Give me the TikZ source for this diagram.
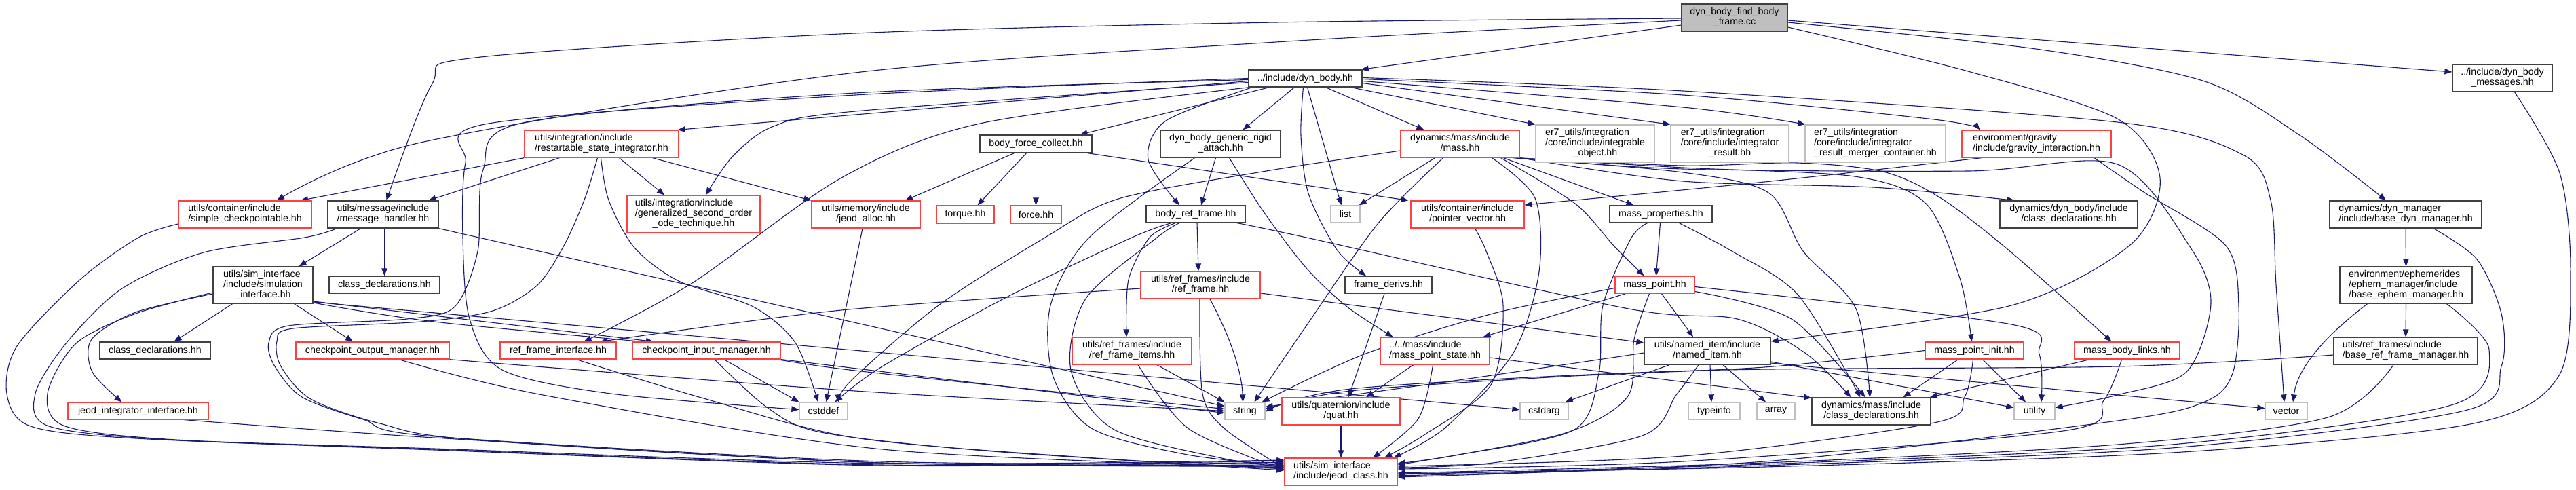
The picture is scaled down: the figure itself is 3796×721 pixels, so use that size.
\documentclass[tikz,border=0pt]{standalone}
\usepackage{fontspec}
\setmainfont{Liberation Sans}
\usetikzlibrary{arrows.meta}
\definecolor{edgec}{HTML}{191970}
\definecolor{darkb}{HTML}{404040}
\definecolor{redc}{HTML}{FF4040}
\definecolor{greyc}{HTML}{BFBFBF}
\newcommand{\dxfont}{\fontsize{14.2pt}{15pt}\selectfont}
\newcommand{\mlbl}[2]{\begin{tabular}{@{}l@{}}#1\\\multicolumn{1}{@{}c@{}}{#2}\end{tabular}}
\pgfdeclarelayer{bg}
\pgfsetlayers{bg,main}
\tikzset{
  nd/.style={draw=darkb, fill=white, line width=1.3pt, inner sep=0pt, font=\dxfont, text=black},
  rd/.style={nd, draw=redc},
  gr/.style={nd, draw=greyc},
  e/.style={draw=edgec, line width=1.1pt, -{Triangle[length=11pt,width=8.5pt]}},
}
\begin{document}
\begin{tikzpicture}[x=1pt,y=-1pt]
\useasboundingbox (0,0) rectangle (3796,721);
\begin{pgfonlayer}{bg}
\fill[white] (0,0) rectangle (3796,721);
\end{pgfonlayer}
% ---------- nodes ----------
\node[nd, fill=greyc, minimum width=156, minimum height=40] (F) at (2556,26) {\mlbl{dyn\_body\_find\_body}{\_frame.cc}};
\node[nd, minimum width=167, minimum height=25] (DB) at (1923.5,115.5) {../include/dyn\_body.hh};
\node[nd, minimum width=147, minimum height=40] (MSG) at (3687.5,115) {\mlbl{../include/dyn\_body}{\_messages.hh}};
\node[rd, minimum width=196, minimum height=40] (SC) at (361,316) {\mlbl{utils/container/include}{/simple\_checkpointable.hh}};
\node[nd, minimum width=163, minimum height=40] (MH) at (564.5,316) {\mlbl{utils/message/include}{/message\_handler.hh}};
\node[rd, minimum width=227, minimum height=40] (RSI) at (886.5,212) {\mlbl{utils/integration/include}{/restartable\_state\_integrator.hh}};
\node[rd, minimum width=196, minimum height=55] (GSO) at (1022,315.5) {\mlbl{utils/integration/include\\/generalized\_second\_order}{\_ode\_technique.hh}};
\node[rd, minimum width=160, minimum height=40] (JA) at (1276,316) {\mlbl{utils/memory/include}{/jeod\_alloc.hh}};
\node[rd, minimum width=85, minimum height=26] (TQ) at (1422.5,316) {torque.hh};
\node[rd, minimum width=75, minimum height=26] (FO) at (1526.5,316) {force.hh};
\node[nd, minimum width=165, minimum height=26] (BFC) at (1526.5,212) {body\_force\_collect.hh};
\node[nd, minimum width=177, minimum height=40] (GRA) at (1798.5,212) {\mlbl{dyn\_body\_generic\_rigid}{\_attach.hh}};
\node[nd, minimum width=146, minimum height=25] (BRF) at (1762,315.5) {body\_ref\_frame.hh};
\node[rd, minimum width=175, minimum height=40] (MASS) at (2151.5,212) {\mlbl{dynamics/mass/include}{/mass.hh}};
\node[gr, minimum width=175, minimum height=55] (IO) at (2350.5,211.5) {\mlbl{er7\_utils/integration\\/core/include/integrable}{\_object.hh}};
\node[gr, minimum width=174, minimum height=55] (IR) at (2549,211.5) {\mlbl{er7\_utils/integration\\/core/include/integrator}{\_result.hh}};
\node[gr, minimum width=207, minimum height=55] (IRM) at (2763.5,211.5) {\mlbl{er7\_utils/integration\\/core/include/integrator}{\_result\_merger\_container.hh}};
\node[rd, minimum width=220, minimum height=40] (GI) at (3001,212) {\mlbl{environment/gravity}{/include/gravity\_interaction.hh}};
\node[nd, minimum width=224, minimum height=40] (BDM) at (3545,316) {\mlbl{dynamics/dyn\_manager}{/include/base\_dyn\_manager.hh}};
\node[gr, minimum width=43, minimum height=25] (LIST) at (1982.5,315.5) {list};
\node[rd, minimum width=167, minimum height=40] (PV) at (2162.5,316) {\mlbl{utils/container/include}{/pointer\_vector.hh}};
\node[nd, minimum width=151, minimum height=25] (MP) at (2447.5,315.5) {mass\_properties.hh};
\node[nd, minimum width=203, minimum height=40] (DBCD) at (3048.5,316) {\mlbl{dynamics/dyn\_body/include}{/class\_declarations.hh}};
\node[nd, minimum width=147, minimum height=54] (SI) at (387.5,420) {\mlbl{utils/sim\_interface\\/include/simulation}{\_interface.hh}};
\node[nd, minimum width=163, minimum height=25] (CD1) at (566.5,419.5) {class\_declarations.hh};
\node[nd, minimum width=163, minimum height=25] (CD2) at (228.5,516.5) {class\_declarations.hh};
\node[rd, minimum width=207, minimum height=25] (JII) at (203.5,605.5) {jeod\_integrator\_interface.hh};
\node[rd, minimum width=226, minimum height=25] (COM) at (549,516.5) {checkpoint\_output\_manager.hh};
\node[rd, minimum width=171, minimum height=25] (RFI) at (822.5,516.5) {ref\_frame\_interface.hh};
\node[rd, minimum width=218, minimum height=25] (CIM) at (1041,516.5) {checkpoint\_input\_manager.hh};
\node[gr, minimum width=71, minimum height=25] (CSTDDEF) at (1213.5,605.5) {cstddef};
\node[rd, minimum width=176, minimum height=40] (RF) at (1769,420) {\mlbl{utils/ref\_frames/include}{/ref\_frame.hh}};
\node[rd, minimum width=176, minimum height=40] (RFIT) at (1668,517) {\mlbl{utils/ref\_frames/include}{/ref\_frame\_items.hh}};
\node[gr, minimum width=59, minimum height=25] (STR) at (1834.5,605.5) {string};
\node[nd, minimum width=128, minimum height=25] (FD) at (2046,419.5) {frame\_derivs.hh};
\node[rd, minimum width=161, minimum height=40] (MPS) at (2114.5,517) {\mlbl{../../mass/include}{/mass\_point\_state.hh}};
\node[rd, minimum width=174, minimum height=40] (QUAT) at (1976,606) {\mlbl{utils/quaternion/include}{/quat.hh}};
\node[gr, minimum width=71, minimum height=25] (CSTDARG) at (2275.5,605.5) {cstdarg};
\node[rd, minimum width=166, minimum height=40] (JC) at (1976,695) {\mlbl{utils/sim\_interface}{/include/jeod\_class.hh}};
\node[rd, minimum width=117, minimum height=25] (MPT) at (2438.5,419.5) {mass\_point.hh};
\node[nd, minimum width=186, minimum height=40] (NI) at (2516,517) {\mlbl{utils/named\_item/include}{/named\_item.hh}};
\node[gr, minimum width=76, minimum height=25] (TI) at (2526,605.5) {typeinfo};
\node[gr, minimum width=56, minimum height=25] (ARR) at (2617,605.5) {array};
\node[nd, minimum width=175, minimum height=40] (MCD) at (2757.5,606) {\mlbl{dynamics/mass/include}{/class\_declarations.hh}};
\node[gr, minimum width=60, minimum height=25] (UT) at (2998,605.5) {utility};
\node[rd, minimum width=145, minimum height=25] (MPI) at (2909.5,516.5) {mass\_point\_init.hh};
\node[rd, minimum width=155, minimum height=25] (MBL) at (3134.5,516.5) {mass\_body\_links.hh};
\node[gr, minimum width=62, minimum height=25] (VEC) at (3369,605.5) {vector};
\node[nd, minimum width=195, minimum height=54] (BEM) at (3545.5,420) {\mlbl{environment/ephemerides\\/ephem\_manager/include}{/base\_ephem\_manager.hh}};
\node[nd, minimum width=212, minimum height=40] (BRFM) at (3545,517) {\mlbl{utils/ref\_frames/include}{/base\_ref\_frame\_manager.hh}};
% ---------- edges ----------
\begin{pgfonlayer}{bg}
% F
\draw[e] ([yshift=-11]F.west) -- ([xshift=-2]DB.north east);
\draw[e] plot[smooth] coordinates {([yshift=-1]F.west) (1880,33) (1260,49) (700,85) (636,125) ([xshift=5]MH.north)};
\draw[e] plot[smooth] coordinates {([yshift=-4]F.west) (1880,62) (1260,107) (620,210) ([xshift=47]SC.north)};
\draw[e] ([yshift=-4]F.east) -- ([yshift=9]MSG.west);
\draw[e] plot[smooth] coordinates {([yshift=-7]F.east) (3000,72) (3249,120) (3390,200) ([xshift=-29]BDM.north)};
\draw[e] plot[smooth] coordinates {([yshift=-14]F.east) (2900,105) (3120,175) (3183,262) (3140,360) (2964,450) ([yshift=14]NI.east)};
% MSG
\draw[e] plot[smooth] coordinates {([xshift=18]MSG.south) (3772,255) (3788,400) (3770,555) (3640,625) (3200,667) (2600,688) ([yshift=-3]JC.east)};
% DB
\draw[e] ([yshift=-4]DB.west) -- ([xshift=-2]RSI.north east);
\draw[e] plot[smooth] coordinates {([yshift=-6]DB.west) (1260,164) (1140,186) (1080,230) ([xshift=18]GSO.north)};
\draw[e] ([xshift=-53]DB.south) -- ([xshift=65]BFC.north);
\draw[e] ([xshift=-16]DB.south) -- ([xshift=33]GRA.north);
\draw[e] plot[smooth] coordinates {([xshift=-78]DB.south) (1718,178) (1692,235) ([xshift=-24]BRF.north)};
\draw[e] plot[smooth] coordinates {([xshift=-82]DB.south) (1444,182) (1240,262) (1020,417) ([xshift=38]RFI.north)};
\draw[e] plot[smooth] coordinates {(DB.west) (1260,140) (720,182) (686,240) (682,350) (692,470) (740,545) (900,580) ([yshift=2]CSTDDEF.west)};
\draw[e] plot[smooth] coordinates {([yshift=-2]DB.west) (1260,137) (775,180) (712,250) (704,370) (670,452) (600,470) (425,480) (396,505) (405,540) (445,585) (535,618) (640,643) (1300,680) ([yshift=12]JC.west)};
\draw[e] plot[smooth] coordinates {([xshift=-3]DB.south) (1917,200) (1928,285) (1970,368) ([xshift=-33]FD.north)};
\draw[e] ([xshift=3]DB.south) -- ([xshift=-6]LIST.north);
\draw[e] ([xshift=30]DB.south) -- ([xshift=-53]MASS.north);
\draw[e] ([xshift=67]DB.south) -- (IO.north west);
\draw[e] ([yshift=-7]DB.east) -- (IR.north west);
\draw[e] plot[smooth] coordinates {([yshift=-4]DB.east) (2480,158) ([xshift=1]IRM.north west)};
\draw[e] plot[smooth] coordinates {([yshift=-1]DB.east) (2480,140) (2850,176) ([xshift=27]GI.north west)};
\draw[e] plot[smooth] coordinates {([yshift=1]DB.east) (2480,134) (3120,180) (3305,228) (3346,295) (3354,420) ([xshift=-3]VEC.north)};
% RSI
\draw[e] (RSI.south west) -- ([xshift=82]SC.north);
\draw[e] ([xshift=-62]RSI.south) -- ([xshift=67]MH.north);
\draw[e] ([xshift=26]RSI.south) -- ([xshift=-43]GSO.north);
\draw[e] ([xshift=75]RSI.south) -- (JA.north west);
\draw[e] plot[smooth] coordinates {([xshift=-1]RSI.south) (897,295) (935,365) (1000,414) (1110,452) (1172,505) ([xshift=-8]CSTDDEF.north)};
\draw[e] plot[smooth] coordinates {([xshift=-6]RSI.south) (862,292) (832,360) (792,420) (726,458) (620,474) (432,484) (408,503) (414,540) (458,588) (560,624) (700,648) (1300,682) ([yshift=10]JC.west)};
% SC
\draw[e] plot[smooth] coordinates {([yshift=-14]SC.west) (204,350) (118,412) (25,510) (10,580) (45,628) (200,646) (640,663) (1300,686) ([yshift=14]JC.west)};
% MH
\draw[e] plot[smooth] coordinates {([xshift=-68]MH.south) (449,350) (300,372) (180,425) (98,505) (52,580) (72,628) (250,648) (640,662) (1300,685) ([yshift=16]JC.west)};
\draw[e] ([xshift=2]MH.south) -- (CD1.north);
\draw[e] ([xshift=-33]MH.south) -- ([xshift=53]SI.north);
\draw[e] (MH.south east) -- ([yshift=7]STR.west);
% SI
\draw[e] ([xshift=-45]SI.south) -- ([xshift=28]CD2.north);
\draw[e] ([xshift=46]SI.south) -- ([xshift=-29]COM.north);
\draw[e] plot[smooth] coordinates {([yshift=-13]SI.west) (200,460) (135,500) (136,548) ([xshift=-24]JII.north)};
\draw[e] plot[smooth] coordinates {([yshift=-11]SI.west) (200,462) (112,506) (70,580) (96,628) (260,648) (640,661) (1300,683) ([yshift=17]JC.west)};
\draw[e] ([yshift=-24]SI.east) -- ([xshift=-78]CIM.north);
\draw[e] plot[smooth] coordinates {([yshift=-26]SI.east) (640,474) (1028,512) (1260,546) ([yshift=3]STR.west)};
\draw[e] ([yshift=-25]SI.east) -- ([yshift=2]CSTDARG.west);
% JII
\draw[e] plot[smooth] coordinates {([xshift=68]JII.south) (640,645) (1300,682) ([yshift=8]JC.west)};
% COM
\draw[e] plot[smooth] coordinates {([xshift=39]COM.south) (800,582) (1300,662) ([yshift=6]JC.west)};
\draw[e] plot[smooth] coordinates {(COM.south east) (1260,576) (STR.west)};
% RFI
\draw[e] plot[smooth] coordinates {([xshift=27]RFI.south) (1030,585) (1260,645) (1600,674) ([yshift=4]JC.west)};
% CIM
\draw[e] ([xshift=26]CIM.south) -- (CSTDDEF.north west);
\draw[e] plot[smooth] coordinates {([xshift=12]CIM.south) (1130,600) (1210,637) (1450,664) ([yshift=2]JC.west)};
\draw[e] ([yshift=-13]CIM.east) -- ([yshift=-3]STR.west);
% JA
\draw[e] ([xshift=-5]JA.south) -- ([xshift=4]CSTDDEF.north);
% BFC
\draw[e] ([xshift=-32]BFC.south) -- ([xshift=58]JA.north);
\draw[e] ([xshift=-14]BFC.south) -- ([xshift=18]TQ.north);
\draw[e] (BFC.south) -- (FO.north);
\draw[e] ([xshift=76]BFC.south) -- ([xshift=-3]PV.north west);
% GRA
\draw[e] ([xshift=-7]GRA.south) -- ([xshift=8]BRF.north);
\draw[e] plot[smooth] coordinates {([xshift=13]GRA.south) (1862,312) (1925,395) (1985,452) ([xshift=-62]MPS.north)};
\draw[e] plot[smooth] coordinates {([xshift=-38]GRA.south) (1605,350) (1548,450) (1552,555) (1610,632) (1750,670) ([yshift=9]JC.west)};
% BRF
\draw[e] ([xshift=2]BRF.south) -- ([xshift=-3]RF.north);
\draw[e] plot[smooth] coordinates {([xshift=-30]BRF.south) (1694,350) (1663,412) ([xshift=-8]RFIT.north)};
\draw[e] plot[smooth] coordinates {([xshift=61]BRF.south) (1925,350) (2400,455) (2560,470) (2660,520) ([xshift=-30]MCD.north)};
\draw[e] plot[smooth] coordinates {([xshift=-36]BRF.south) (1668,350) (1485,437) (1300,540) ([xshift=17]CSTDDEF.north)};
\draw[e] plot[smooth] coordinates {([xshift=-24]BRF.south) (1705,350) (1600,440) (1578,545) (1640,632) (1800,675) ([yshift=7]JC.west)};
% RF
\draw[e] plot[smooth] coordinates {([yshift=-5]RF.west) (1240,457) ([xshift=62]RFI.north)};
\draw[e] ([yshift=-12]RF.east) -- ([yshift=12]NI.west);
\draw[e] ([xshift=14]RF.south) .. controls (1815,500) and (1830,550) .. ([xshift=-3]STR.north);
\draw[e] plot[smooth] coordinates {([xshift=-1]RF.south) (1772,580) (1805,632) ([yshift=5]JC.west)};
% RFIT
\draw[e] ([xshift=37]RFIT.south) -- (STR.north west);
\draw[e] plot[smooth] coordinates {([xshift=9]RFIT.south) (1752,632) ([yshift=3]JC.west)};
% FD
\draw[e] ([xshift=-6]FD.south) -- ([xshift=11]QUAT.north);
% MPS
\draw[e] ([xshift=-32]MPS.south) -- ([xshift=37]QUAT.north);
\draw[e] plot[smooth] coordinates {([xshift=-3]MPS.south) (2090,617) ([xshift=47]JC.north)};
\draw[e] ([yshift=-10]MPS.east) -- ([yshift=-1]MCD.north west);
% QUAT
\draw[e] (QUAT.south) -- (JC.north);
% MASS
\draw[e] ([xshift=-37]MASS.south) -- ([xshift=-2]LIST.north east);
\draw[e] plot[smooth] coordinates {([xshift=-25]MASS.south) (2030,330) (1925,480) ([xshift=14]STR.north)};
\draw[e] plot[smooth] coordinates {([xshift=47]MASS.south) (2262,292) (2268,400) (2230,520) (2130,630) ([xshift=-6]JC.north east)};
\draw[e] plot[smooth] coordinates {([xshift=60]MASS.south) (2321,300) (2378,362) ([xshift=-16]MPT.north)};
\draw[e] ([xshift=64]MASS.south) -- ([xshift=-40]MP.north);
\draw[e] plot[smooth] coordinates {([yshift=-10]MASS.west) (1860,253) (1648,293) (1540,350) (1383,450) (1255,560) ([xshift=22]CSTDDEF.north)};
\draw[e] plot[smooth] coordinates {(MASS.south east) (2480,267) (2760,276) ([xshift=-80]DBCD.north)};
\draw[e] plot[smooth] coordinates {([xshift=-4]MASS.south east) (2480,247) (2733,260) (2838,300) (2888,410) ([xshift=-4]MPI.north)};
\draw[e] plot[smooth] coordinates {([xshift=-6]MASS.south east) (2480,244) (2648,240) (2775,253) (2860,292) (2964,372) ([xshift=-23]MBL.north)};
\draw[e] plot[smooth] coordinates {([xshift=-8]MASS.south east) (2480,249) (2900,252) (3120,242) (3228,365) (3258,447) (3222,548) (3120,582) ([yshift=5]UT.east)};
\draw[e] plot[smooth] coordinates {([xshift=-10]MASS.south east) (2480,254) (2606,284) (2657,370) (2735,455) ([xshift=-2]MCD.north)};
% PV
\draw[e] plot[smooth] coordinates {([xshift=11]PV.south) (2190,370) (2215,450) (2197,567) (2100,640) ([xshift=64]JC.north)};
% MP
\draw[e] ([xshift=-1]MP.south) -- ([xshift=2]MPT.north);
\draw[e] plot[smooth] coordinates {([xshift=27]MP.south) (2552,370) (2650,435) ([xshift=-16]MCD.north)};
\draw[e] plot[smooth] coordinates {([xshift=-20]MP.south) (2403,352) (2362,450) (2356,550) (2320,633) (2150,670) ([yshift=12]JC.east)};
% MPT
\draw[e] ([xshift=-43]MPT.south) -- ([xshift=71]MPS.north);
\draw[e] plot[smooth] coordinates {([yshift=-5]MPT.west) (2200,462) (2010,522) ([xshift=-5]STR.north east)};
\draw[e] ([xshift=10]MPT.south) -- ([xshift=-21]NI.north);
\draw[e] plot[smooth] coordinates {([yshift=-10]MPT.east) (2640,470) ([xshift=-9]MCD.north)};
\draw[e] plot[smooth] coordinates {([yshift=-3]MPT.east) (2964,478) (3005,522) ([xshift=10]UT.north)};
\draw[e] plot[smooth] coordinates {([xshift=-8]MPT.south) (2408,500) (2398,585) (2300,640) ([yshift=10]JC.east)};
% NI
\draw[e] ([xshift=4]NI.south) -- ([xshift=-4]TI.north);
\draw[e] ([xshift=23]NI.south) -- ([xshift=-15]ARR.north);
\draw[e] ([xshift=-56]NI.south) -- ([xshift=-5]CSTDARG.north east);
\draw[e] plot[smooth] coordinates {([yshift=-3]NI.west) (2150,560) ([yshift=6]STR.east)};
\draw[e] ([yshift=-16]NI.east) -- ([yshift=5]UT.west);
\draw[e] plot[smooth] coordinates {([yshift=-18]NI.east) (3120,582) ([yshift=4]VEC.west)};
\draw[e] plot[smooth] coordinates {([xshift=-13]NI.south) (2470,582) (2420,642) (2200,682) ([yshift=6]JC.east)};
% MPI
\draw[e] ([xshift=-24]MPI.south) -- ([xshift=47]MCD.north);
\draw[e] ([xshift=12]MPI.south) -- ([xshift=-13]UT.north);
\draw[e] plot[smooth] coordinates {(MPI.west) (2600,541) (2300,555) (1990,576) ([yshift=3]STR.east)};
\draw[e] plot[smooth] coordinates {([xshift=-2]MPI.south) (2895,585) (2850,623) (2480,672) ([yshift=8]JC.east)};
% MBL
\draw[e] ([xshift=-55]MBL.south) -- ([xshift=-2]MCD.north east);
\draw[e] plot[smooth] coordinates {([xshift=-8]MBL.south) (3100,590) (3040,635) (2480,680) ([yshift=4]JC.east)};
% BDM
\draw[e] (BDM.south) -- (BEM.north);
\draw[e] plot[smooth] coordinates {([xshift=41]BDM.south) (3650,382) (3686,462) (3686,540) (3632,605) (3200,660) (2600,686) ([yshift=-6]JC.east)};
% BEM
\draw[e] (BEM.south) -- (BRFM.north);
\draw[e] ([xshift=-57]BEM.south) .. controls (3420,500) and (3385,545) .. ([xshift=10]VEC.north);
\draw[e] plot[smooth] coordinates {([xshift=60]BEM.south) (3668,515) (3612,597) (3200,655) (2600,684) ([yshift=-4]JC.east)};
% BRFM
\draw[e] plot[smooth] coordinates {([yshift=-6]BRFM.west) (3120,540) (2500,546) (2000,572) ([yshift=-1]STR.east)};
\draw[e] plot[smooth] coordinates {([xshift=-18]BRFM.south) (3430,615) (3120,655) (2600,682) ([yshift=-2]JC.east)};
% GI
\draw[e] plot[smooth] coordinates {([xshift=-81]GI.south) (2600,268) ([yshift=14]PV.east)};
\draw[e] plot[smooth] coordinates {([xshift=85]GI.south) (3159,283) (3280,362) (3299,452) (3290,550) (3249,592) (3120,620) (2600,680) ([yshift=-8]JC.east)};
\end{pgfonlayer}
\end{tikzpicture}
\end{document}
